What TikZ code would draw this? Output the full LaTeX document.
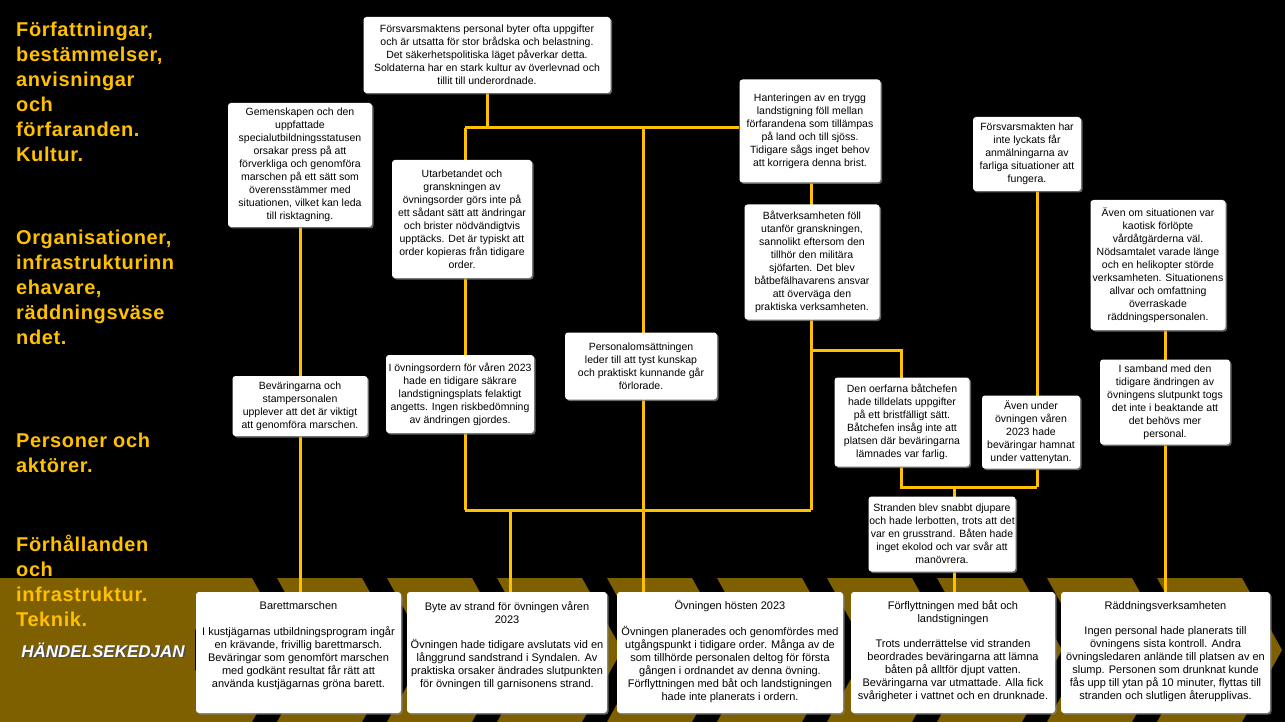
\documentclass[tikz,border=0pt]{standalone}
\usepackage{fontspec}
\setmainfont{Liberation Sans}
\newfontfamily\labfont[LetterSpace=3]{Liberation Sans}
\usetikzlibrary{shadows}
\pgfdeclarelayer{back}\pgfdeclarelayer{lines}
\pgfsetlayers{back,lines,main}
\definecolor{gold}{RGB}{255,192,0}
\definecolor{band}{RGB}{127,96,0}
\begin{document}
\begin{tikzpicture}[x=1pt,y=-1pt,
  box/.style={fill=white, rounded corners=3pt, align=center, inner sep=0pt,
    font=\fontsize{10.5}{13}\selectfont,
    drop shadow={fill=gray, opacity=0.8, shadow xshift=1.5pt, shadow yshift=-1.5pt}},
  txt/.style={align=center, inner sep=0pt, font=\fontsize{11}{13}\selectfont},
  conn/.style={draw=gold, line width=3pt},
  lab/.style={text=gold, font=\labfont\fontsize{20}{25}\selectfont\bfseries, anchor=north west, align=left, inner sep=0pt},
]
\useasboundingbox (0,0) rectangle (1285,722);
\begin{pgfonlayer}{back}
\fill[black] (0,0) rectangle (1285,722);
\foreach \i in {0,...,9}{
  \pgfmathsetmacro{\xa}{167+\i*110}
  \fill[band] (\xa,578) -- ++(85,0) -- ++(40,72) -- ++(-40,72) -- ++(-85,0) -- ++(40,-72) -- cycle;
}
\fill[band] (0,578) rectangle (195,722);
\end{pgfonlayer}

% left labels
\node[lab] (l1) at (16,22) {Författningar,\\bestämmelser,\\anvisningar\\och\\förfaranden.\\Kultur.};
\node[lab] (l2) at (16,230) {Organisationer,\\infrastrukturinn\\ehavare,\\räddningsväse\\ndet.};
\node[lab] (l3) at (16,433) {Personer och\\aktörer.};
\node[lab] (l4) at (16,535) {Förhållanden\\och\\infrastruktur.\\Teknik.};
\node[text=black!70, font=\fontsize{17}{20}\selectfont\bfseries\itshape, inner sep=0pt] (hk0) at (104.5,651.5) {HÄNDELSEKEDJAN};
\node[text=white, font=\fontsize{17}{20}\selectfont\bfseries\itshape, inner sep=0pt] (hk) at (103,650) {HÄNDELSEKEDJAN};

% upper boxes
\node[box, minimum width=247pt, minimum height=76pt] (A) at (487,55) {Försvarsmaktens personal byter ofta uppgifter\\och är utsatta för stor brådska och belastning.\\Det säkerhetspolitiska läget påverkar detta.\\Soldaterna har en stark kultur av överlevnad och\\tillit till underordnade.};
\node[box, minimum width=144pt, minimum height=124pt] (B) at (300,165) {Gemenskapen och den\\uppfattade\\specialutbildningsstatusen\\orsakar press på att\\förverkliga och genomföra\\marschen på ett sätt som\\överensstämmer med\\situationen, vilket kan leda\\till risktagning.};
\node[box, minimum width=141pt, minimum height=103pt] (C) at (810,131) {Hanteringen av en trygg\\landstigning föll mellan\\förfarandena som tillämpas\\på land och till sjöss.\\Tidigare sågs inget behov\\att korrigera denna brist.};
\node[box, minimum width=140pt, minimum height=118pt] (D) at (462,219) {Utarbetandet och\\granskningen av\\övningsorder görs inte på\\ett sådant sätt att ändringar\\och brister nödvändigtvis\\upptäcks. Det är typiskt att\\order kopieras från tidigare\\order.};
\node[box, minimum width=135pt, minimum height=115pt] (E) at (812,262) {Båtverksamheten föll\\utanför granskningen,\\sannolikt eftersom den\\tillhör den militära\\sjöfarten. Det blev\\båtbefälhavarens ansvar\\att överväga den\\praktiska verksamheten.};
\node[box, minimum width=108pt, minimum height=74pt] (F) at (1027,154) {Försvarsmakten har\\inte lyckats får\\anmälningarna av\\farliga situationer att\\fungera.};
\node[box, minimum width=135pt, minimum height=130pt] (G) at (1158,265) {Även om situationen var\\kaotisk förlöpte\\vårdåtgärderna väl.\\Nödsamtalet varade länge\\och en helikopter störde\\verksamheten. Situationens\\allvar och omfattning\\överraskade\\räddningspersonalen.};
\node[box, minimum width=152pt, minimum height=67pt] (H) at (641,366) {Personalomsättningen\\leder till att tyst kunskap\\och praktiskt kunnande går\\förlorade.};
\node[box, minimum width=148pt, minimum height=78pt] (I) at (460,394) {I övningsordern för våren 2023\\hade en tidigare säkrare\\landstigningsplats felaktigt\\angetts. Ingen riskbedömning\\av ändringen gjordes.};
\node[box, minimum width=135pt, minimum height=60pt] (J) at (300,406) {Beväringarna och\\stampersonalen\\upplever att det är viktigt\\att genomföra marschen.};
\node[box, minimum width=135pt, minimum height=89pt] (K) at (902,422) {Den oerfarna båtchefen\\hade tilldelats uppgifter\\på ett bristfälligt sätt.\\Båtchefen insåg inte att\\platsen där beväringarna\\lämnades var farlig.};
\node[box, minimum width=98pt, minimum height=73pt] (L) at (1031,432) {Även under\\övningen våren\\2023 hade\\beväringar hamnat\\under vattenytan.};
\node[box, minimum width=130pt, minimum height=85pt] (M) at (1165,402) {I samband med den\\tidigare ändringen av\\övningens slutpunkt togs\\det inte i beaktande att\\det behövs mer\\personal.};
\node[box, minimum width=147pt, minimum height=75pt] (N) at (942,534) {Stranden blev snabbt djupare\\och hade lerbotten, trots att det\\var en grusstrand. Båten hade\\inget ekolod och var svår att\\manövrera.};

% bottom boxes
\node[box, minimum width=205pt, minimum height=121pt] (Q1) at (298.5,652.5) {};
\node[box, minimum width=200pt, minimum height=121pt] (Q2) at (507,652.5) {};
\node[box, minimum width=226pt, minimum height=121pt] (Q3) at (730,652.5) {};
\node[box, minimum width=204pt, minimum height=121pt] (Q4) at (953,652.5) {};
\node[box, minimum width=209pt, minimum height=121pt] (Q5) at (1165.5,652.5) {};

\node[txt] (Q1t) at (298.5,606) {Barettmarschen};
\node[txt, anchor=north] (Q1b) at (298.5,626) {I kustjägarnas utbildningsprogram ingår\\en krävande, frivillig barettmarsch.\\Beväringar som genomfört marschen\\med godkänt resultat får rätt att\\använda kustjägarnas gröna barett.};
\node[txt] (Q2t) at (507,613) {Byte av strand för övningen våren\\2023};
\node[txt, anchor=north] (Q2b) at (507,639) {Övningen hade tidigare avslutats vid en\\långgrund sandstrand i Syndalen. Av\\praktiska orsaker ändrades slutpunkten\\för övningen till garnisonens strand.};
\node[txt] (Q3t) at (730,606) {Övningen hösten 2023};
\node[txt, anchor=north] (Q3b) at (730,626) {Övningen planerades och genomfördes med\\utgångspunkt i tidigare order. Många av de\\som tillhörde personalen deltog för första\\gången i ordnandet av denna övning.\\Förflyttningen med båt och landstigningen\\hade inte planerats i ordern.};
\node[txt] (Q4t) at (953,613) {Förflyttningen med båt och\\landstigningen};
\node[txt, anchor=north] (Q4b) at (953,639) {Trots underrättelse vid stranden\\beordrades beväringarna att lämna\\båten på alltför djupt vatten.\\Beväringarna var utmattade. Alla fick\\svårigheter i vattnet och en drunknade.};
\node[txt] (Q5t) at (1165.5,607) {Räddningsverksamheten};
\node[txt, anchor=north] (Q5b) at (1165.5,626) {Ingen personal hade planerats till\\övningens sista kontroll. Andra\\övningsledaren anlände till platsen av en\\slump. Personen som drunknat kunde\\fås upp till ytan på 10 minuter, flyttas till\\stranden och slutligen återupplivas.};

% junction coordinates
\coordinate (tA) at (487,128);
\coordinate (tD) at (465,128);
\coordinate (tH) at (643,128);
\coordinate (bD) at (465,510);
\coordinate (bE) at (811,510);
\coordinate (bQ2) at (510,510);
\coordinate (eK) at (811,350);
\coordinate (kK) at (901,350);
\coordinate (kB) at (901,487);
\coordinate (lB) at (1037,487);
\coordinate (nT) at (954,487);

\begin{pgfonlayer}{lines}
\draw[conn] (B) -- (J);
\draw[conn] (J) -- (J |- Q1.north);
\draw[conn] (A) -- (tA);
\draw[conn] (tD) -- (tD -| C.west);
\draw[conn] (tD) -- (bD);
\draw[conn] (tH) -- (tH |- Q3.north);
\draw[conn] (bD) -- (bE);
\draw[conn] (bQ2) -- (bQ2 |- Q2.north);
\draw[conn] (C.south -| bE) -- (bE);
\draw[conn] (eK) -- (kK) -- (kB) -- (lB);
\draw[conn] (F.south -| lB) -- (lB);
\draw[conn] (nT) -- (nT |- Q4.north);
\draw[conn] (G.south -| M.north) -- (M.north |- Q5.north);
\end{pgfonlayer}
\end{tikzpicture}
\end{document}
